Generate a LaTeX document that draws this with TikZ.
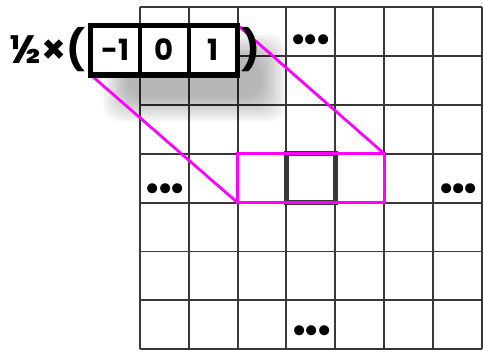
\documentclass[tikz,border=0pt]{standalone}
\usepackage{fontspec}
\setmainfont{Poppins}
\newfontfamily\dotfont{DejaVu Sans}
\usepackage{xcolor}
\usetikzlibrary{arrows.meta, positioning, calc}
\definecolor{gridgrey}{HTML}{383838}
\definecolor{winmagenta}{HTML}{FF00FF}

\begin{document}
\begin{tikzpicture}
      \useasboundingbox (-2.857,-0.04) rectangle (7.02,7.143);
      \tikzset{cell/.style={minimum width=1cm, minimum height=1.02cm, inner sep=0pt, outer sep=0pt, fill=white, font=\fontsize{17}{20}\selectfont\bfseries},
        dots/.style={font=\dotfont\fontsize{20}{22}\selectfont, inner sep=0pt}}
      % image grid
      \draw[gridgrey, line width=1.15pt] (0,0) grid (7,7);
      \draw[gridgrey, line width=2.6pt] (3,3) rectangle (4,4);
      \node[dots] (dtop) at (3.5,6.26) {•\kern-4.6pt•\kern-4.6pt•};
      \node[dots] (dleft) at (0.52,3.21) {•\kern-4.6pt•\kern-4.6pt•};
      \node[dots] (dright) at (6.52,3.21) {•\kern-4.6pt•\kern-4.6pt•};
      \node[dots] (dbot) at (3.52,0.31) {•\kern-4.6pt•\kern-4.6pt•};
      % shadow
      \foreach \i in {0,...,11}{
        \fill[black, opacity=0.028, rounded corners=10pt] ($(-0.75,4.65)+(\i*0.045,\i*0.045)$) rectangle ($(3.0,6.45)-(\i*0.045,\i*0.045)$);
      }
      % window
      \node[draw=winmagenta, line width=1.6pt, minimum width=3cm, minimum height=1cm, inner sep=0pt, outer sep=0pt] (win) at (3.5,3.5) {};
      % kernel
      \node[cell] (k1) at (-0.5,6.12) {-1};
      \node[cell] (k2) at (0.5,6.12) {0};
      \node[cell] (k3) at (1.5,6.12) {1};
      \draw[winmagenta, line width=1.6pt] (k1.south west) -- (win.south west);
      \draw[winmagenta, line width=1.6pt] (k3.north east) -- (win.north east);
      \draw[black, line width=2.2pt] (k1.north east) -- (k1.south east) (k2.north east) -- (k2.south east);
      \draw[black, line width=3pt] (k1.north west) rectangle (k3.south east);
      \node[font=\fontsize{23}{26}\selectfont\bfseries, anchor=east, inner sep=0pt] (scale) at (-1.1,6.12) {½×(};
      \node[font=\fontsize{23}{26}\selectfont\bfseries, anchor=west, inner sep=0pt] (close) at (2.08,6.12) {)};
    \end{tikzpicture}
\end{document}
